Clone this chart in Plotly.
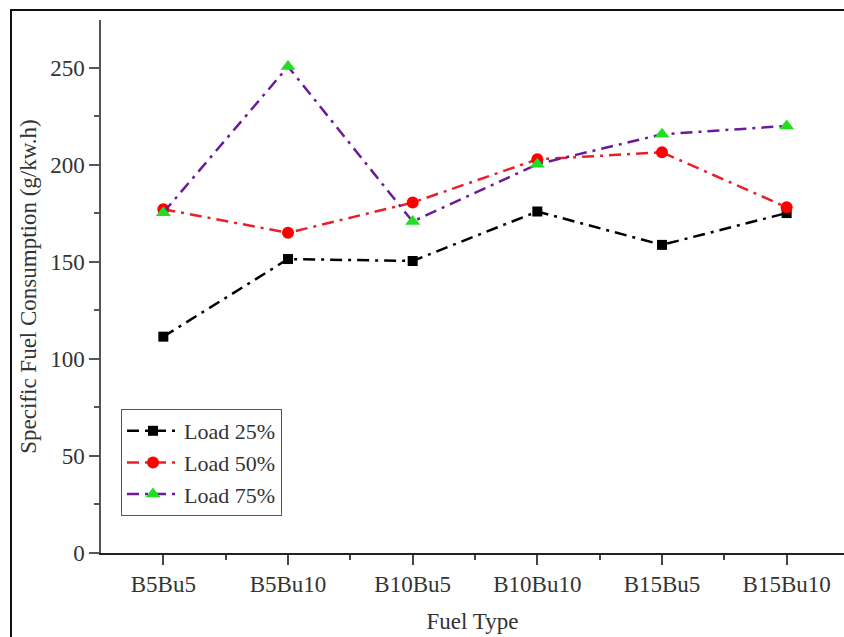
import plotly.graph_objects as go

categories = ["B5Bu5", "B5Bu10", "B10Bu5", "B10Bu10", "B15Bu5", "B15Bu10"]
load25 = [111.5, 151.5, 150.5, 176.0, 158.8, 175.2]
load50 = [177.2, 165.0, 180.6, 202.9, 206.5, 178.2]
load75 = [175.4, 250.7, 170.8, 200.4, 215.8, 220.1]
y_ticks = [0, 50, 100, 150, 200, 250]

xpos = list(range(len(categories)))
font_family = "Liberation Serif, Times New Roman, serif"
dash = "12px,6px,3px,6px"
fs = 23
txt = "#333333"

fig = go.Figure()
fig.add_trace(go.Scatter(
    x=xpos, y=load25, name="Load 25%", mode="lines+markers",
    line=dict(color="#000000", width=2.5, dash=dash),
    marker=dict(symbol="square", size=10, color="#000000"),
))
fig.add_trace(go.Scatter(
    x=xpos, y=load50, name="Load 50%", mode="lines+markers",
    line=dict(color="#e8202a", width=2.5, dash=dash),
    marker=dict(symbol="circle", size=12, color="#ff0000"),
))
fig.add_trace(go.Scatter(
    x=xpos, y=load75, name="Load 75%", mode="lines+markers",
    line=dict(color="#6a1b9a", width=2.5, dash=dash),
    marker=dict(symbol="triangle-up", size=13, color="#22dd22"),
))

L, T, B = 101, 20, 84
W, H = 844, 637
pw = W - L
ph = H - T - B

fig.update_layout(
    width=W, height=H,
    margin=dict(l=L, r=0, t=T, b=B, pad=0),
    paper_bgcolor="white", plot_bgcolor="white",
    font=dict(family=font_family, size=fs, color=txt),
    showlegend=True,
    legend=dict(
        x=(121 - L) / pw, y=(553 - 409) / ph, xanchor="left", yanchor="top",
        bordercolor="#555555", borderwidth=1, bgcolor="white",
        font=dict(family=font_family, size=22, color=txt),
        tracegroupgap=0, itemwidth=52,
    ),
    xaxis=dict(
        range=[-0.5, 5.46], tickmode="array", tickvals=xpos, ticktext=categories,
        showline=True, linecolor="#222222", linewidth=1.5,
        ticks="outside", ticklen=10, tickwidth=1.5, tickcolor="#444444",
        minor=dict(tickmode="array", tickvals=[i + 0.5 for i in xpos[:-1]],
                   ticks="outside", ticklen=5, tickwidth=1.5, tickcolor="#444444"),
        showgrid=False, zeroline=False,
        tickfont=dict(family=font_family, size=fs, color=txt),
        title=dict(text="Fuel Type", font=dict(family=font_family, size=fs, color=txt), standoff=17),
    ),
    yaxis=dict(
        range=[0, 274.7], tickmode="array", tickvals=y_ticks,
        showline=True, linecolor="#555555", linewidth=1.5,
        ticks="outside", ticklen=10, tickwidth=1.5, tickcolor="#555555",
        minor=dict(dtick=25, tick0=0, ticks="outside", ticklen=5, tickwidth=1.5, tickcolor="#555555"),
        showgrid=False, zeroline=False,
        tickfont=dict(family=font_family, size=fs, color=txt),
        title=dict(text="Specific Fuel Consumption (g/kw.h)",
                   font=dict(family=font_family, size=fs, color=txt), standoff=7),
    ),
    shapes=[dict(
        type="rect", xref="paper", yref="paper",
        x0=(11 - L) / pw, x1=1.2, y0=-0.3, y1=1 + 10 / ph,
        line=dict(color="#111111", width=2), fillcolor="rgba(0,0,0,0)", layer="above",
    )],
)

fig.write_html("out.html")
